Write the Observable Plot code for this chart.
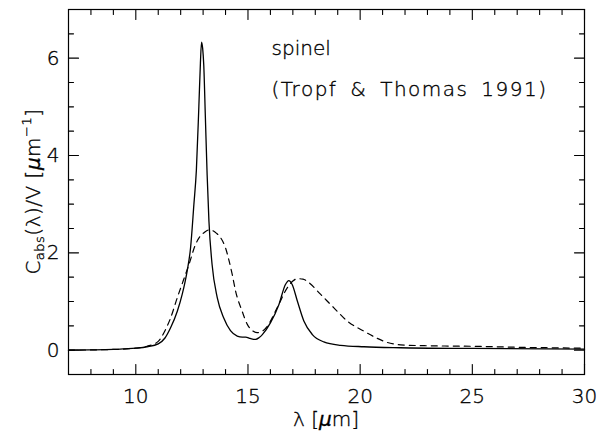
<!DOCTYPE html>
<html>
<head>
<meta charset="utf-8">
<script src="https://cdn.jsdelivr.net/npm/d3@7"></script>
<script src="https://cdn.jsdelivr.net/npm/@observablehq/plot@0.6"></script>
<style>
  html, body { margin: 0; padding: 0; background: #fff; }
  #chart { width: 597px; height: 441px; }
  #chart svg text { fill: #000; stroke: #000; stroke-width: 0.35px; }
</style>
</head>
<body>
<div id="chart"></div>
<script>
// Solid curve (wavelength in µm, C_abs/V in µm^-1)
const solidX = [7.0, 8.0, 9.0, 10.0, 10.5, 11.0, 11.3, 11.55, 11.85, 12.07, 12.29, 12.44, 12.59, 12.7, 12.81, 12.88, 12.93, 12.98, 13.03, 13.1, 13.18, 13.26, 13.4, 13.63, 13.92, 14.22, 14.52, 14.75, 14.9, 15.1, 15.34, 15.5, 15.64, 16.0, 16.38, 16.67, 16.82, 16.97, 17.2, 17.49, 17.87, 18.38, 19.13, 20.17, 21.8, 25.0, 30.0];
const solidY = [0.0, 0.005, 0.015, 0.04, 0.07, 0.13, 0.25, 0.46, 0.80, 1.15, 1.63, 2.1, 3.0, 3.7, 5.0, 5.9, 6.33, 6.2, 5.85, 4.8, 3.6, 2.65, 1.76, 1.08, 0.66, 0.40, 0.29, 0.27, 0.27, 0.24, 0.22, 0.26, 0.32, 0.56, 0.94, 1.35, 1.43, 1.35, 1.01, 0.60, 0.32, 0.17, 0.10, 0.07, 0.05, 0.035, 0.02];

// Dashed curve
const dashX = [7.0, 8.0, 9.0, 10.0, 10.5, 11.0, 11.3, 11.55, 11.85, 12.11, 12.37, 12.66, 12.85, 13.03, 13.25, 13.4, 13.6, 13.78, 14.0, 14.15, 14.3, 14.45, 14.74, 14.97, 15.2, 15.41, 15.6, 15.86, 16.3, 16.75, 17.0, 17.2, 17.45, 17.71, 18.23, 18.83, 19.42, 20.17, 20.6, 21.2, 21.8, 23.0, 25.0, 27.0, 30.0];
const dashY = [0.0, 0.005, 0.015, 0.04, 0.08, 0.18, 0.4, 0.66, 1.08, 1.42, 1.76, 2.17, 2.33, 2.41, 2.47, 2.46, 2.4, 2.31, 2.1, 1.85, 1.55, 1.21, 0.80, 0.53, 0.40, 0.36, 0.38, 0.49, 0.87, 1.28, 1.42, 1.47, 1.46, 1.39, 1.15, 0.87, 0.60, 0.39, 0.28, 0.16, 0.11, 0.09, 0.08, 0.06, 0.04];

// Axes
const xDomain = [7, 30];
const yDomain = [-0.5, 7];
const xMajor = [10, 15, 20, 25, 30];
const xMinor = [8, 9, 11, 12, 13, 14, 16, 17, 18, 19, 21, 22, 23, 24, 26, 27, 28, 29];
const yMajor = [0, 2, 4, 6];
const yMinor = [0.5, 1, 1.5, 2.5, 3, 3.5, 4.5, 5, 5.5, 6.5];

// Annotations
const notes = ["spinel", "(Tropf & Thomas 1991)"];
const noteX = [16.05, 16.05];
const noteY = [6.07, 5.22];

const solid = solidX.map((x, i) => ({x, y: solidY[i]}));
const dashed = dashX.map((x, i) => ({x, y: dashY[i]}));
const noteData = notes.map((t, i) => ({t, x: noteX[i], y: noteY[i]}));

const W = 597, H = 441;
const mL = 68, mR = 13, mT = 9, mB = 67;
const iW = W - mL - mR, iH = H - mT - mB;
const font = "'DejaVu Sans', 'Liberation Sans', sans-serif";

// inward tick lengths (10px major, 5px minor) in data units
const kx = (xDomain[1] - xDomain[0]) / iW;
const ky = (yDomain[1] - yDomain[0]) / iH;
const x0 = xDomain[0], x1 = xDomain[1], y0 = yDomain[0], y1 = yDomain[1];

const tickSegs = [];
let id = 0;
for (const [vals, len] of [[xMajor, 10], [xMinor, 5]]) {
  for (const v of vals) {
    id++; tickSegs.push({id, x: v, y: y0}, {id, x: v, y: y0 + len * ky});
    id++; tickSegs.push({id, x: v, y: y1}, {id, x: v, y: y1 - len * ky});
  }
}
for (const [vals, len] of [[yMajor, 10], [yMinor, 5]]) {
  for (const v of vals) {
    id++; tickSegs.push({id, x: x0, y: v}, {id, x: x0 + len * kx, y: v});
    id++; tickSegs.push({id, x: x1, y: v}, {id, x: x1 - len * kx, y: v});
  }
}

const chart = Plot.plot({
  width: W, height: H,
  marginLeft: mL, marginRight: mR, marginTop: mT, marginBottom: mB,
  x: {domain: xDomain},
  y: {domain: yDomain},
  style: {fontFamily: font, fontSize: "20px", background: "#fff", color: "#000", fontWeight: 200},
  marks: [
    Plot.line(solid, {x: "x", y: "y", curve: "monotone-x", stroke: "#000", strokeWidth: 1.3}),
    Plot.line(dashed, {x: "x", y: "y", curve: "monotone-x", stroke: "#000", strokeWidth: 1.2, strokeDasharray: "6,5"}),
    Plot.axisX(xMajor, {tickSize: 0, tickPadding: 14, label: null, fontSize: 20}),
    Plot.axisY(yMajor, {tickSize: 0, tickPadding: 9, label: null, fontSize: 20}),
    Plot.frame({stroke: "#000", strokeWidth: 1.2}),
    Plot.text(noteData.slice(0, 1), {x: "x", y: "y", text: "t", textAnchor: "start", lineAnchor: "bottom", fontSize: 20, fill: "#000"}),
    Plot.text(noteData.slice(1), {x: "x", y: "y", text: "t", textAnchor: "start", lineAnchor: "bottom", fontSize: 20, fill: "#000", className: "wide"}),
    Plot.line(tickSegs, {x: "x", y: "y", z: "id", stroke: "#000", strokeWidth: 1.1})
  ]
});

document.getElementById("chart").appendChild(chart);

const svg = d3.select(chart);
svg.selectAll(".wide text").style("letter-spacing", "1.5px").style("word-spacing", "5px");

// x-axis title
const xt = svg.append("text")
  .attr("x", mL + iW / 2).attr("y", 426)
  .attr("text-anchor", "middle")
  .attr("font-family", font).attr("font-size", 20).attr("font-weight", 200);
xt.append("tspan").text("λ [");
xt.append("tspan").attr("font-style", "italic").text("μ");
xt.append("tspan").text("m]");

// y-axis title
const yt = svg.append("text")
  .attr("transform", `translate(40,${mT + iH / 2}) rotate(-90)`)
  .attr("text-anchor", "middle")
  .style("letter-spacing", "0.5px")
  .attr("font-family", font).attr("font-size", 20).attr("font-weight", 200);
yt.append("tspan").text("C");
yt.append("tspan").attr("font-size", 13).attr("dy", 4).text("abs");
yt.append("tspan").attr("dy", -4).text("(λ)/V [");
yt.append("tspan").attr("font-style", "italic").text("μ");
yt.append("tspan").text("m");
yt.append("tspan").attr("font-size", 13).attr("dy", -9).text("−1");
yt.append("tspan").attr("dy", 9).text("]");
</script>
</body>
</html>
